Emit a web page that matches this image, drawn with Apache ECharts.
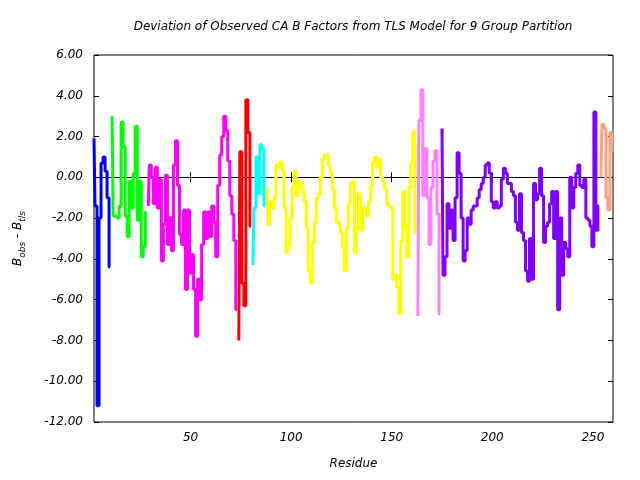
<!DOCTYPE html>
<html>
<head>
<meta charset="utf-8">
<script src="https://cdn.jsdelivr.net/npm/echarts@6/dist/echarts.min.js"></script>
<style>html,body{margin:0;padding:0;background:#fff;}#c{width:640px;height:480px;}</style>
</head>
<body>
<div id="c"></div>
<script>
// ---- data ----
const xTicks = [50, 100, 150, 200, 250];
const groupNames = ['Group 1','Group 2','Group 3','Group 4','Group 5','Group 6','Group 7','Group 8','Group 9'];
const groupStarts = [2, 11, 29, 74, 81, 88, 163, 175, 254];
const g1 = [1.9, -1.4, -11.2, -2.0, 0.7, 1.0, 0.3, -1.0, -4.4];
const g2 = [3.0, -1.9, -1.9, -2.0, -1.4, 2.7, 1.5, -1.9, -2.9, -0.2, -1.5, 0.2, 2.5, -2.1, -0.2, -3.9, -3.4, -1.7];
const g3 = [-1.4, 0.6, 0.0, -1.3, 0.5, -1.5, -0.1, -4.1, -2.3, 0.1, -3.3, -2.0, -3.6, 0.6, 1.8, -0.4, -2.8, -3.3, -1.6, -5.5,
            -1.6, -4.7, -3.8, -5.5, -7.8, -5.0, -6.0, -3.3, -1.7, -3.0, -1.7, -2.9, -1.4, -2.2, -3.9, -0.4, 1.1, 2.0, 3.0, 2.3,
            0.8, -0.9, -1.8, -3.1, -6.5];
const g4 = [-8.0, 1.25, -5.2, -6.3, 3.8, 2.2, -2.4];
const g5 = [-4.3, -1.5, 1.0, -0.8, 1.6, 1.4, -1.4];
const g6 = [-0.5, -2.3, -1.2, -1.5, -1.0, 0.6, 0.5, 0.75, 0.3, -1.5, -3.7, -3.3, -2.0, -0.5, 0.3, -0.9, -0.2, -0.3, -0.7, -1.2,
            -2.5, -4.6, -5.2, -3.2, -2.2, -1.0, -0.8, 0.0, 0.9, 1.1, 1.1, 0.6, 0.2, -0.6, -1.5, -2.2, -2.3, -2.7, -3.4, -4.6,
            -2.5, -1.3, -0.3, -0.2, -3.7, -2.5, -0.8, -2.6, -1.5, -1.5, -1.9, -1.2, -0.4, 0.75, 1.0, 0.5, 0.9, 0.0, -0.2, -0.6,
            -1.3, -1.4, -1.5, -5.0, -4.8, -5.4, -6.7, -3.1, -0.7, -2.4, -3.9, -0.5, 0.7, 2.25, -2.7];
const g7 = [-6.8, 2.8, 4.3, -0.9, 1.4, -1.0, -3.3, -0.5, 0.8, 1.3, -1.8, -6.7];
const g8 = [2.4, -4.8, -3.9, -1.3, -2.5, -1.6, -3.1, -1.0, 1.2, 0.2, -2.0, -4.1, -3.6, -2.0, -2.3, -1.6, -1.4, -1.4, -1.0, -0.6,
            -0.3, 0.0, 0.6, 0.7, 0.2, -1.2, -1.5, -1.2, -1.5, -1.4, -0.1, 0.45, 0.2, -0.3, -0.3, -0.7, -0.9, -2.2, -2.6, -0.8,
            -2.7, -3.1, -4.6, -5.1, -3.0, -5.0, -0.3, -1.1, -0.8, 0.45, -0.9, -3.2, -2.4, -2.2, -1.3, -0.7, -3.0, -0.7, -6.5, -2.0,
            -4.8, -3.2, -3.5, -3.9, 0.0, -1.5, -0.5, 0.2, 0.6, -0.4, -0.5, -0.1, -2.0, -2.1, -2.4, -3.4, 3.2, -2.6, -1.4];
const g9 = [0.0, 2.6, 2.4, -1.0, -1.6, 2.2, 1.3];
const groupValues = [g1, g2, g3, g4, g5, g6, g7, g8, g9];

// ---- styles ----
const groupColors = ['#0000ff', '#00ff00', '#ff00ff', '#ff0000', '#00ffff', '#ffff00', '#ff80ff', '#8000ff', '#ffa080'];
const FONT = 'DejaVu Sans';

const chart = echarts.init(document.getElementById('c'), null, {renderer: 'canvas'});

const series = groupValues.map((vals, gi) => ({
  name: groupNames[gi],
  type: 'line',
  step: 'middle',
  showSymbol: false,
  symbol: 'none',
  silent: true,
  animation: false,
  z: 2,
  lineStyle: {color: groupColors[gi], width: 3},
  data: vals.map((v, i) => [groupStarts[gi] + i, v])
}));
series.unshift({
  name: 'zero',
  type: 'line',
  data: [],
  silent: true,
  z: 1,
  markLine: {
    silent: true, z: 1, symbol: ['none', 'none'], animation: false,
    label: {show: false},
    lineStyle: {color: '#000', width: 1, type: 'solid'},
    emphasis: {disabled: true},
    data: [{yAxis: 0}]
  }
});

const labelStyle = {color: '#000', fontFamily: FONT, fontStyle: 'italic', fontSize: 12};
const tickStyle = {show: true, inside: true, length: 5, lineStyle: {color: '#000', width: 1}};

chart.setOption({
  animation: false,
  backgroundColor: '#fff',
  graphic: [{
    type: 'text', x: 353, y: 27,
    style: {text: 'Deviation of Observed CA B Factors from TLS Model for 9 Group Partition',
            fill: '#000', font: 'italic 12px "DejaVu Sans"', textAlign: 'center', textVerticalAlign: 'middle'}
  }],
  grid: {left: 94, right: 27, top: 55, bottom: 58, show: true, borderColor: '#000', borderWidth: 1, backgroundColor: 'transparent'},
  xAxis: [{
    type: 'value', min: 2, max: 260, position: 'bottom',
    axisLine: {show: false},
    axisTick: Object.assign({}, tickStyle, {customValues: xTicks}),
    axisLabel: Object.assign({}, labelStyle, {customValues: xTicks, margin: 10}),
    splitLine: {show: false},
    name: 'Residue', nameLocation: 'middle', nameGap: 36,
    nameTextStyle: labelStyle
  }, {
    type: 'value', min: 2, max: 260, position: 'top',
    axisLine: {show: false},
    axisTick: Object.assign({}, tickStyle, {customValues: xTicks}),
    axisLabel: {show: false, customValues: xTicks},
    splitLine: {show: false}
  }],
  yAxis: [{
    type: 'value', min: -12, max: 6, interval: 2, position: 'left',
    axisLine: {show: false},
    axisTick: tickStyle,
    axisLabel: Object.assign({}, labelStyle, {margin: 11, formatter: v => v.toFixed(2)}),
    splitLine: {show: false},
    name: '{i|B}{s|obs}{i| - B}{s|tls}',
    nameLocation: 'middle', nameRotate: 90, nameGap: 67,
    nameTextStyle: {
      color: '#000', fontFamily: FONT, fontStyle: 'italic', fontSize: 12,
      rich: {
        i: {fontFamily: FONT, fontStyle: 'italic', fontSize: 12, color: '#000', lineHeight: 18, verticalAlign: 'middle'},
        s: {fontFamily: FONT, fontStyle: 'italic', fontSize: 9, color: '#000', lineHeight: 18, verticalAlign: 'bottom', padding: [6, 0, 0, 0]}
      }
    }
  }, {
    type: 'value', min: -12, max: 6, interval: 2, position: 'right',
    axisLine: {show: false},
    axisTick: tickStyle,
    axisLabel: {show: false},
    splitLine: {show: false}
  }],
  series: series
});
</script>
</body>
</html>
